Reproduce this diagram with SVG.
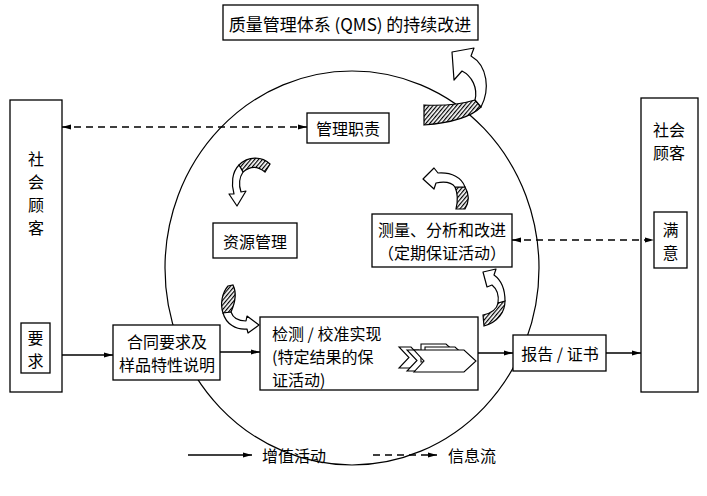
<svg xmlns="http://www.w3.org/2000/svg" width="707" height="496" viewBox="0 0 707 496">
<style>
.box{fill:#fff;stroke:#000;stroke-width:1.3}
.t{font-family:"Noto Sans CJK SC","Liberation Sans",sans-serif;font-size:16px;fill:#000;dominant-baseline:central}
.m{text-anchor:middle}
.solid{stroke:#000;stroke-width:1.6;fill:none}
.dash{stroke:#000;stroke-width:1.6;fill:none;stroke-dasharray:7 5}
.hatch{fill:url(#hatch);stroke:#000;stroke-width:1.2}
.body{fill:#fff;stroke:#000;stroke-width:1.2;stroke-linejoin:round}
</style>
<defs>
<marker id="ah" markerWidth="10" markerHeight="6" refX="9" refY="3" orient="auto-start-reverse" markerUnits="userSpaceOnUse">
<path d="M0,0.5 L9,3 L0,5.5 Z" fill="#000"/>
</marker>
<pattern id="hatch" patternUnits="userSpaceOnUse" width="3" height="3" patternTransform="rotate(40)">
<rect width="3" height="3" fill="#fff"/>
<line x1="0.6" y1="0" x2="0.6" y2="3" stroke="#000" stroke-width="1.2"/>
</pattern>
</defs>
<rect width="707" height="496" fill="#fff"/>

<!-- big circle -->
<ellipse cx="352" cy="268" rx="187" ry="197" fill="none" stroke="#000" stroke-width="1.2"/>

<g id="title">
<rect class="box" x="223" y="5" width="255" height="35"/>
<text class="t m" x="350" y="23" style="font-size:17px">质量管理体系 (QMS) 的持续改进</text>
</g>

<g id="customer-left">
<rect class="box" x="10" y="100" width="52" height="292"/>
<text class="t m" x="36" y="158">社</text>
<text class="t m" x="36" y="181">会</text>
<text class="t m" x="36" y="204">顾</text>
<text class="t m" x="36" y="227">客</text>
</g>
<g id="requirement">
<rect class="box" x="21" y="323" width="29" height="50"/>
<text class="t m" x="35.5" y="336.5">要</text>
<text class="t m" x="35.5" y="359.5">求</text>
</g>

<g id="customer-right">
<rect class="box" x="641" y="98" width="57" height="294"/>
<text class="t m" x="669" y="129">社会</text>
<text class="t m" x="669" y="152">顾客</text>
</g>
<g id="satisfaction">
<rect class="box" x="654" y="212" width="33" height="56"/>
<text class="t m" x="670.5" y="228.5">满</text>
<text class="t m" x="670.5" y="251.5">意</text>
</g>

<g id="management">
<rect class="box" x="307" y="113" width="82" height="30"/>
<text class="t m" x="348" y="128">管理职责</text>
</g>

<g id="resource">
<rect class="box" x="213" y="223" width="84" height="35"/>
<text class="t m" x="255" y="240.5">资源管理</text>
</g>

<g id="measure">
<rect class="box" x="372" y="214" width="140" height="53"/>
<text class="t m" x="442" y="229">测量、分析和改进</text>
<text class="t m" x="442" y="252">（定期保证活动）</text>
</g>

<g id="contract">
<rect class="box" x="113" y="325" width="107" height="55"/>
<text class="t m" x="167" y="341">合同要求及</text>
<text class="t m" x="167" y="364">样品特性说明</text>
</g>

<g id="realization">
<rect class="box" x="260" y="317" width="218" height="73"/>
<text class="t" x="272" y="333">检测 / 校准实现</text>
<text class="t" x="272" y="356">(特定结果的保</text>
<text class="t" x="272" y="379">证活动)</text>
<g fill="#fff" stroke="#000" stroke-width="1.1" stroke-linejoin="miter">
<polygon points="399,347 411,347 421,357.5 411,368 399,368 409,357.5"/>
<polygon points="407,350 419,350 429,360.5 419,371 407,371 417,360.5"/>
<polygon points="421,344 446,344 456,353 446,362 421,362"/>
<polygon points="425,347 455,347 465,356 455,365 425,365"/>
<polygon points="414,350 464,350 476,361 464,372 414,372 424,361"/>
</g>
</g>

<g id="report">
<rect class="box" x="513" y="335" width="93" height="36"/>
<text class="t m" x="560" y="353">报告 / 证书</text>
</g>

<g id="connectors">
<line class="dash" x1="62" y1="127" x2="307" y2="127" marker-start="url(#ah)" marker-end="url(#ah)"/>
<line class="dash" x1="512" y1="240" x2="654" y2="240" marker-start="url(#ah)" marker-end="url(#ah)"/>
<line class="solid" x1="62" y1="355" x2="113" y2="355" marker-end="url(#ah)"/>
<line class="solid" x1="220" y1="352" x2="260" y2="352" marker-end="url(#ah)"/>
<line class="solid" x1="478" y1="353" x2="513" y2="353" marker-end="url(#ah)"/>
<line class="solid" x1="606" y1="353" x2="641" y2="353" marker-end="url(#ah)"/>
</g>

<g id="cycle-arrows">
<path class="hatch" d="M424,105 C445,106 462,104 475,100 L481,107 C470,118 450,123 424,125 Z"/>
<path class="body" d="M475,100 C478,88 472,76 462,71 L454,80 L452,52 L474,48 L471,56 C488,66 490,90 481,107 Z"/>
<path class="hatch" d="M239,165 C248,156 262,156 270,164 L265,172 C258,166 250,166 243,172 Z"/>
<path class="body" d="M243,172 C239,178 239,186 241,192 L246,191 L237,206 L229,194 L234,194 C231,184 232,172 239,165 Z"/>
<path class="hatch" d="M455,187 L465,187 C470,195 469,202 465,209 L456,209 C458,201 458,194 455,187 Z"/>
<path class="body" d="M465,187 C462,178 452,172 438,173 L434,168 L423,179 L434,189 L436,183 C446,181 452,183 455,187 Z"/>
<path class="hatch" d="M228,286 L233,285 C237,293 235,303 231,312 L223,313 C220,304 222,293 228,286 Z"/>
<path class="body" d="M231,312 C233,318 238,321 246,321 L247,316 L259,325 L248,333 L247,329 C236,330 226,324 223,313 Z"/>
<path class="hatch" d="M498,303 L505,301 C505,312 498,322 484,326 L483,315 C492,313 497,309 498,303 Z"/>
<path class="body" d="M498,303 C499,296 497,289 492,285 L487,287 L483,272 L496,269 L494,275 C501,280 505,290 505,301 Z"/>
</g>

<g id="legend">
<line class="solid" x1="188" y1="455" x2="252" y2="455" marker-end="url(#ah)"/>
<text class="t" x="262" y="455">增值活动</text>
<line class="dash" x1="373" y1="455" x2="437" y2="455" marker-end="url(#ah)"/>
<text class="t" x="448" y="455">信息流</text>
</g>
</svg>
